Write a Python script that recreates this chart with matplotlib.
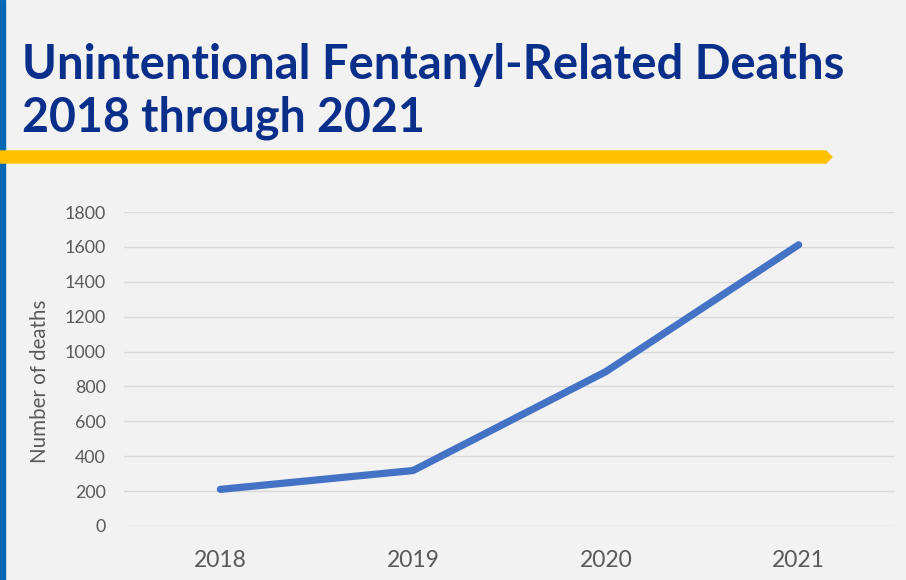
import matplotlib
matplotlib.use("Agg")
import matplotlib.pyplot as plt
from matplotlib.patches import Polygon, Rectangle

# ── data ───────────────────────────────────────────────────────────────────
YEARS  = ["2018", "2019", "2020", "2021"]
DEATHS = [210, 318, 885, 1612]
Y_TICKS = [0, 200, 400, 600, 800, 1000, 1200, 1400, 1600, 1800]

TITLE_1 = "Unintentional Fentanyl-Related Deaths"
TITLE_2 = "2018 through 2021"
Y_LABEL = "Number of deaths"

# ── style ──────────────────────────────────────────────────────────────────
BG     = "#F2F2F2"
NAVY   = "#0A2F8A"
BLUE   = "#4472C4"
GOLD   = "#FFC000"
SIDE   = "#0067B4"
GREY   = "#595959"
GRID   = "#D9D9D9"
FONT   = "Lato"

W, H = 906, 580
fig = plt.figure(figsize=(W / 100, H / 100), dpi=100, facecolor=BG)

# left accent bar + yellow arrow strip
fig.patches.append(Rectangle((0, 0), 5 / W, 1, transform=fig.transFigure,
                             color=SIDE, zorder=1))
strip = [(0, 1 - 151 / H), (826 / W, 1 - 151 / H), (832 / W, 1 - 157 / H),
         (826 / W, 1 - 163 / H), (0, 1 - 163 / H)]
fig.patches.append(Polygon(strip, closed=True, transform=fig.transFigure,
                           color=GOLD, zorder=2))

# title, sized to fit the original width
renderer = fig.canvas.get_renderer()
def fitted_text(x, y_base, s, target_w, size0=40):
    t = fig.text(x / W, 1 - y_base / H, s, fontsize=size0, fontweight="bold",
                 family=FONT, color=NAVY, ha="left", va="baseline")
    w = t.get_window_extent(renderer).width
    t.set_fontsize(size0 * target_w / w)
    return t

fitted_text(22, 79, TITLE_1, 823)
fitted_text(22, 132, TITLE_2, 403)

# ── chart ──────────────────────────────────────────────────────────────────
ax = fig.add_axes([124 / W, 54 / H, 771 / W, 314 / H])
ax.set_facecolor(BG)
x = range(len(YEARS))
ax.plot(x, DEATHS, color=BLUE, lw=5.2, solid_capstyle="round",
        solid_joinstyle="round", zorder=3)

ax.set_xlim(-0.5, len(YEARS) - 0.5)
ax.set_ylim(0, 1800)
ax.set_yticks(Y_TICKS)
ax.set_xticks(list(x))
ax.set_xticklabels(YEARS)
ax.grid(axis="y", color=GRID, lw=1.0)
ax.set_axisbelow(True)
for s in ax.spines.values():
    s.set_visible(False)
ax.tick_params(axis="both", length=0, colors=GREY)
ax.tick_params(axis="y", pad=13, labelsize=12.8)
ax.tick_params(axis="x", pad=17, labelsize=16.5)
for lab in ax.get_xticklabels() + ax.get_yticklabels():
    lab.set_family(FONT)

fig.text(40 / W, 1 - 381 / H, Y_LABEL, rotation=90, ha="center", va="center",
         fontsize=14.8, family=FONT, color=GREY)

fig.savefig("out.png", dpi=100, facecolor=BG)
